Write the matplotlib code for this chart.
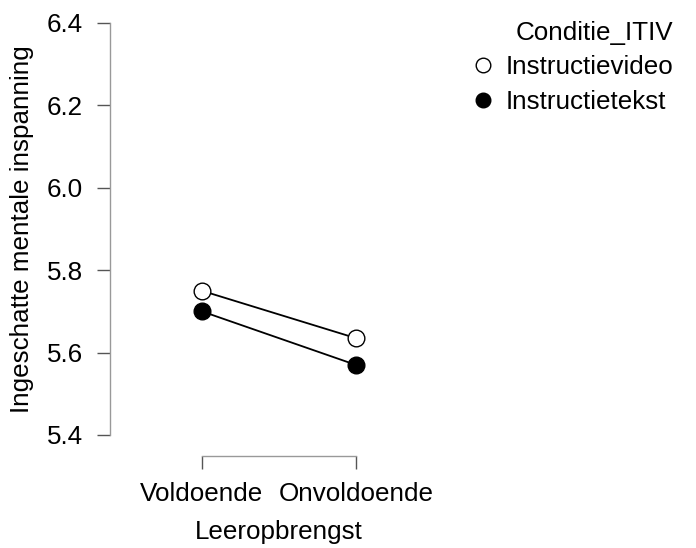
import matplotlib

matplotlib.use("Agg")
import matplotlib.pyplot as plt
from matplotlib.lines import Line2D

plt.rcParams["font.family"] = ["Liberation Sans", "DejaVu Sans"]

# data
categories = ["Voldoende", "Onvoldoende"]
instructievideo = [5.75, 5.635]
instructietekst = [5.70, 5.57]
y_ticks = [5.4, 5.6, 5.8, 6.0, 6.2, 6.4]
y_tick_labels = ["5.4", "5.6", "5.8", "6.0", "6.2", "6.4"]

W, H = 696, 548
fig = plt.figure(figsize=(W / 100, H / 100), dpi=100)
ax = fig.add_axes([110 / W, 1 - 456 / H, (448 - 110) / W, (456 - 23) / H])

x = list(range(len(categories)))
ax.plot(x, instructievideo, color="black", lw=1.3, marker="o", markersize=12,
        markerfacecolor="white", markeredgecolor="black", markeredgewidth=1.0,
        clip_on=False, zorder=3)
ax.plot(x, instructietekst, color="black", lw=1.3, marker="o", markersize=12,
        markerfacecolor="black", markeredgecolor="black", clip_on=False, zorder=3)

y_lo, y_hi = 5.349, 6.4
ax.set_xlim(-0.597, 1.597)
ax.set_ylim(y_lo, y_hi)

ax.set_xticks(x)
ax.set_xticklabels(categories)
ax.set_yticks(y_ticks)
ax.set_yticklabels(y_tick_labels)

for side in ["top", "right"]:
    ax.spines[side].set_visible(False)
ax.spines["left"].set_bounds(y_ticks[0], y_ticks[-1])
ax.spines["bottom"].set_bounds(0, 1)
for side in ["left", "bottom"]:
    ax.spines[side].set_color("#999999")
    ax.spines[side].set_linewidth(1.0)

ax.tick_params(axis="both", direction="out", length=9.5, width=1.0,
               color="#555555", labelsize=18.7, labelcolor="black")
ax.tick_params(axis="y", pad=10)
ax.tick_params(axis="x", pad=9)

ax.set_xlabel("Leeropbrengst", fontsize=18.7, labelpad=10)
ax.set_ylabel("Ingeschatte mentale inspanning", fontsize=18.7)
# centre the y label on the range of the axis line
mid = ((y_ticks[0] + y_ticks[-1]) / 2 - y_lo) / (y_hi - y_lo)
ax.yaxis.set_label_coords(-0.225, mid)

handles = [
    Line2D([], [], linestyle="none", marker="o", markersize=10.5,
           markerfacecolor="white", markeredgecolor="black", markeredgewidth=1.0),
    Line2D([], [], linestyle="none", marker="o", markersize=10.5,
           markerfacecolor="black", markeredgecolor="black"),
]
fig.legend(handles, ["Instructievideo", "Instructietekst"], title="Conditie_ITIV",
           loc="upper right", bbox_to_anchor=(673 / W, 1 - 21 / H),
           frameon=False, fontsize=18.7, title_fontsize=18.7,
           alignment="right", borderpad=0, borderaxespad=0,
           handletextpad=0.35, labelspacing=0.4, handlelength=1.0)

fig.savefig("out.png", dpi=100)
